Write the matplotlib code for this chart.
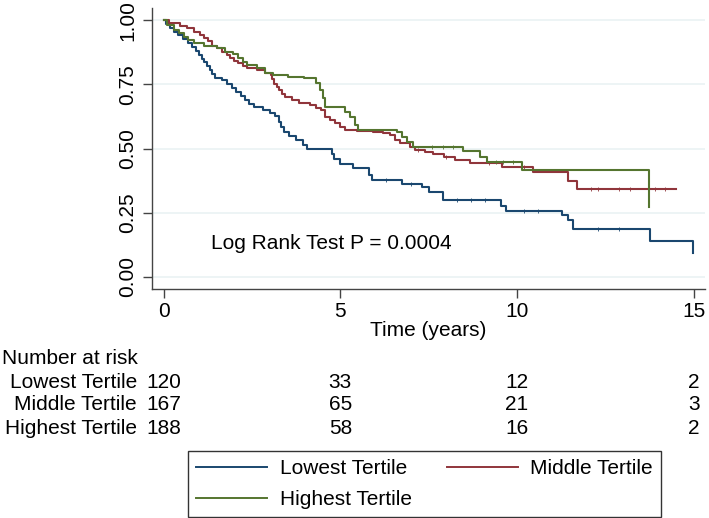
import numpy as np
import matplotlib
matplotlib.use('Agg')
import matplotlib.pyplot as plt
from matplotlib.lines import Line2D
import matplotlib.transforms as mtransforms

plt.rcParams['font.family'] = ['Liberation Sans', 'DejaVu Sans']

# Kaplan-Meier step data (time in years, survival)
low_t = [0.00, 0.08, 0.18, 0.30, 0.40, 0.55, 0.68, 0.80, 0.92, 1.00, 1.08, 1.15,
         1.22, 1.30, 1.38, 1.45, 1.65, 1.80, 1.92, 2.05, 2.18, 2.30, 2.42, 2.55,
         2.80, 3.00, 3.15, 3.25, 3.32, 3.40, 3.55, 3.75, 3.95, 4.05, 4.75, 4.82,
         4.98, 5.35, 5.80, 5.90, 6.75, 7.30, 7.50, 7.90, 9.55, 9.70, 11.27, 11.45,
         11.58, 13.76, 14.97]
low_s = [1.000, 0.985, 0.970, 0.955, 0.940, 0.925, 0.910, 0.895, 0.880, 0.865, 0.850, 0.835,
         0.820, 0.805, 0.790, 0.775, 0.765, 0.750, 0.735, 0.720, 0.705, 0.690, 0.675, 0.662,
         0.650, 0.638, 0.625, 0.605, 0.585, 0.565, 0.550, 0.535, 0.515, 0.500, 0.480, 0.460,
         0.440, 0.425, 0.395, 0.378, 0.363, 0.350, 0.332, 0.300, 0.275, 0.258, 0.240, 0.222,
         0.186, 0.141, 0.093]

mid_t = [0.00, 0.15, 0.45, 0.65, 0.85, 1.03, 1.15, 1.25, 1.37, 1.50, 1.64, 1.78,
         1.88, 2.00, 2.10, 2.25, 2.35, 2.63, 2.87, 3.05, 3.08, 3.12, 3.20, 3.25,
         3.35, 3.44, 3.64, 3.82, 4.15, 4.30, 4.45, 4.57, 4.70, 4.85, 5.00, 5.14,
         5.47, 5.93, 6.20, 6.40, 6.55, 6.70, 6.98, 7.12, 7.40, 7.63, 7.92, 8.25,
         8.68, 9.58, 10.46, 11.45, 11.70, 14.50]
mid_s = [1.000, 0.988, 0.978, 0.968, 0.955, 0.942, 0.930, 0.918, 0.900, 0.890, 0.876, 0.864,
         0.852, 0.842, 0.832, 0.822, 0.813, 0.805, 0.795, 0.786, 0.770, 0.752, 0.740, 0.728,
         0.714, 0.700, 0.690, 0.677, 0.668, 0.657, 0.648, 0.623, 0.610, 0.598, 0.584, 0.572,
         0.567, 0.563, 0.560, 0.553, 0.533, 0.520, 0.506, 0.494, 0.486, 0.480, 0.467, 0.455,
         0.442, 0.428, 0.409, 0.372, 0.342, 0.342]

high_t = [0.00, 0.10, 0.28, 0.42, 0.57, 0.70, 0.85, 1.13, 1.50, 1.74, 1.96, 2.10,
          2.25, 2.35, 2.63, 2.87, 3.10, 3.53, 3.96, 4.30, 4.43, 4.50, 4.57, 5.14,
          5.28, 5.42, 5.50, 6.60, 6.75, 6.90, 7.06, 8.47, 8.96, 9.15, 10.14, 13.73]
high_s = [1.000, 0.980, 0.960, 0.950, 0.935, 0.922, 0.910, 0.900, 0.890, 0.876, 0.868, 0.852,
          0.838, 0.825, 0.813, 0.794, 0.787, 0.778, 0.774, 0.755, 0.728, 0.697, 0.661, 0.642,
          0.623, 0.591, 0.572, 0.565, 0.545, 0.525, 0.506, 0.490, 0.465, 0.447, 0.416, 0.274]

# censoring tick times
low_cens = [6.3, 7.0, 8.3, 8.7, 9.1, 10.2, 10.6, 12.3, 12.9]
mid_cens = [7.2, 8.0, 9.2, 10.2, 12.1, 12.3, 12.9, 13.2, 13.9, 14.2]
high_cens = [7.6, 7.9, 8.2, 9.4, 9.6, 9.9]

group_names = ['Lowest Tertile', 'Middle Tertile', 'Highest Tertile']
risk_times = [0, 5, 10, 15]
risk_low = [120, 33, 12, 2]
risk_mid = [167, 65, 21, 3]
risk_high = [188, 58, 16, 2]

colors = ['#1a476f', '#90353b', '#55752f']
FS = 15

fig = plt.figure(figsize=(7.09, 5.18), dpi=100)
ax = fig.add_axes([152 / 709, 1 - 289 / 518, (705 - 152) / 709, (289 - 8) / 518])

for y in [0, 0.25, 0.5, 0.75, 1.0]:
    ax.axhline(y, color='#eaf2f3', lw=1.2, zorder=0)

series = [(low_t, low_s, low_cens), (mid_t, mid_s, mid_cens), (high_t, high_s, high_cens)]
for (t, s, cens), c, name in zip(series, colors, group_names):
    ax.step(t, s, where='post', color=c, lw=1.5, label=name, zorder=3)
    idx = np.searchsorted(t, cens, side='right') - 1
    ax.plot(cens, np.array(s)[idx], ls='none', marker='|', ms=3, mew=0.6, color=c, zorder=3)

ax.set_xlim(-0.33, 15.32)
ax.set_ylim(-0.047, 1.047)
ax.set_xticks([0, 5, 10, 15])
ax.set_yticks([0, 0.25, 0.5, 0.75, 1.0])
ax.set_yticklabels(['0.00', '0.25', '0.50', '0.75', '1.00'], rotation=90, va='center')
ax.tick_params(axis='both', labelsize=FS, length=6.5, width=1, color='#444444')
ax.tick_params(axis='y', pad=4)
ax.tick_params(axis='x', pad=3)
for side in ['top', 'right']:
    ax.spines[side].set_visible(False)
for side in ['left', 'bottom']:
    ax.spines[side].set_color('#444444')
    ax.spines[side].set_linewidth(1)
ax.set_xlabel('Time (years)', fontsize=FS, labelpad=0)

ax.text(1.33, 0.13, 'Log Rank Test P = 0.0004', fontsize=FS, va='center', ha='left')

# number at risk table
trans = mtransforms.blended_transform_factory(ax.transData, fig.transFigure)
fig.text(2 / 709, 1 - 358 / 518, 'Number at risk', fontsize=FS, va='center', ha='left')
row_y = [1 - 382 / 518, 1 - 405 / 518, 1 - 428 / 518]
for name, counts, yy in zip(group_names, [risk_low, risk_mid, risk_high], row_y):
    fig.text(137 / 709, yy, name, fontsize=FS, va='center', ha='right')
    for tt, n in zip(risk_times, counts):
        fig.text(tt, yy, str(n), fontsize=FS, va='center', ha='center', transform=trans)

handles = [Line2D([], [], color=colors[0], lw=1.4),
           Line2D([], [], color=colors[2], lw=1.4),
           Line2D([], [], color=colors[1], lw=1.4)]
labels = [group_names[0], group_names[2], group_names[1]]
leg = fig.legend(handles, labels, ncol=2, fontsize=FS, loc='upper left',
                 bbox_to_anchor=(188 / 709, 1 - 451 / 518),
                 fancybox=False, framealpha=1, edgecolor='#333333',
                 handlelength=3.4, handletextpad=0.6, borderpad=0.4, labelspacing=0.55,
                 columnspacing=1.7, borderaxespad=0)
leg.get_frame().set_linewidth(1)

fig.savefig('out.png', dpi=100)
